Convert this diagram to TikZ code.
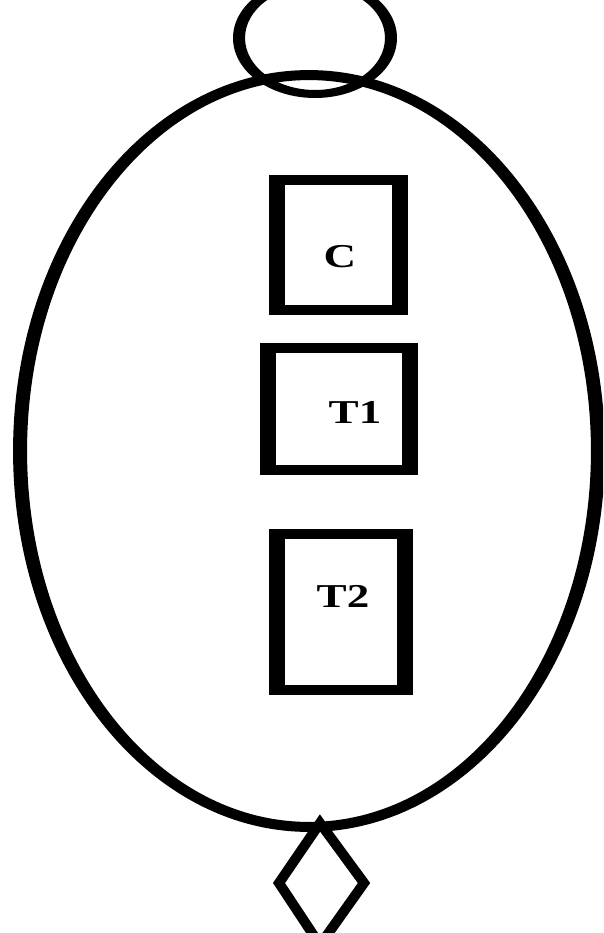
\documentclass[tikz,border=0pt]{standalone}
\usepackage{fontspec}
\setmainfont{Liberation Serif}
\newfontfamily\labelfont[FakeStretch=1.35]{Liberation Serif}
\usetikzlibrary{calc}

\begin{document}
\begin{tikzpicture}[x=0.02cm, y=-0.02cm]
    % Define colours
    \definecolor{borderColour}{HTML}{000000}
    \definecolor{fillColour}{HTML}{FFFFFF}

    % Define line widths
    \def\topWidth{5.7pt}
    \def\sideWidth{9.1pt}

    \tikzset{
        compbox/.style={draw=borderColour, line width=\topWidth, fill=fillColour, inner sep=0pt, outer sep=0pt},
        complabel/.style={font=\labelfont\fontsize{19}{22}\selectfont\bfseries, inner sep=0pt}
    }

    % Fix the picture size
    \clip (0,0) rectangle (603,933);
    \fill[white] (0,0) rectangle (603,933);

    % Draw the ring on top
    \fill[borderColour, even odd rule] (315,38) ellipse [x radius=1.64cm, y radius=1.20cm]
        (315,38) ellipse [x radius=1.40cm, y radius=1.04cm];

    % Draw the body
    \fill[borderColour, even odd rule] (309,451) ellipse [x radius=5.92cm, y radius=7.62cm]
        (309,451) ellipse [x radius=5.64cm, y radius=7.42cm];

    % Draw the diamond below the body
    \coordinate (dTop) at (320,823);
    \coordinate (dLeft) at (279,883);
    \coordinate (dBottom) at (320,945);
    \coordinate (dRight) at (364,883);
    \draw[borderColour, line width=\topWidth, line join=miter] (dTop) -- (dLeft) -- (dBottom) -- (dRight) -- cycle;

    % Draw the boxes
    \node[compbox, minimum width=2.48cm, minimum height=2.60cm] (cBox) at (338.5,245) {};
    \node[compbox, minimum width=2.85cm, minimum height=2.44cm] (tOneBox) at (339,409) {};
    \node[compbox, minimum width=2.57cm, minimum height=3.12cm] (tTwoBox) at (341,612) {};

    % Thicken the upright sides
    \foreach \b in {cBox, tOneBox, tTwoBox} {
        \draw[borderColour, line width=\sideWidth] ($(\b.north west)+(0,-5)$) -- ($(\b.south west)+(0,5)$);
        \draw[borderColour, line width=\sideWidth] ($(\b.north east)+(0,-5)$) -- ($(\b.south east)+(0,5)$);
    }

    % Label the boxes
    \node[complabel] (cLabel) at (340,257) {C};
    \node[complabel] (tOneLabel) at (355,412) {T1};
    \node[complabel] (tTwoLabel) at (343,596) {T2};

\end{tikzpicture}
\end{document}
